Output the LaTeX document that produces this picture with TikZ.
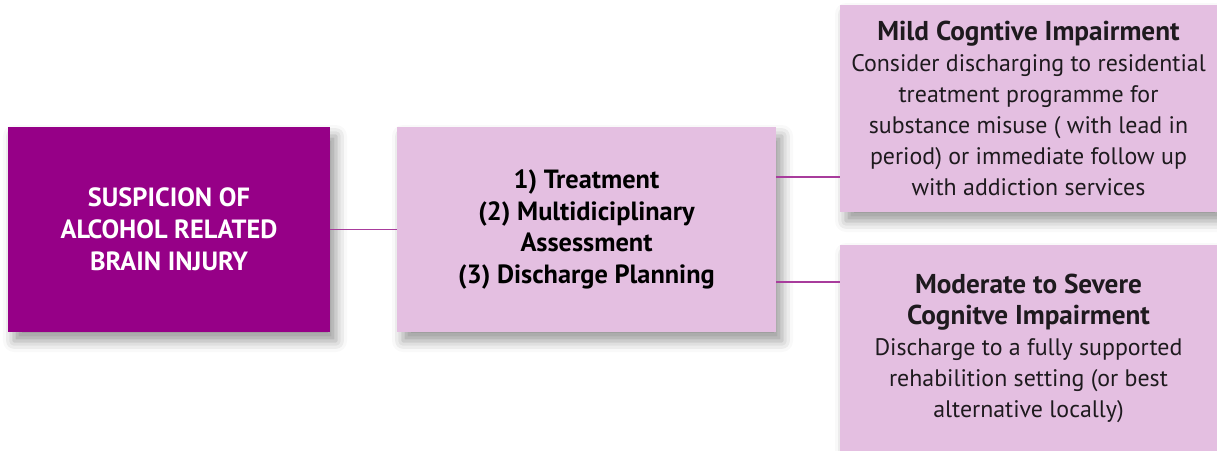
\documentclass[tikz,border=0pt]{standalone}
\usepackage{fontspec}
\setmainfont{PT Sans}
\usetikzlibrary{positioning,calc,shadows.blur}
\definecolor{plum}{HTML}{960087}
\definecolor{lilac}{HTML}{E4BFE1}
\definecolor{wire}{HTML}{A83C9C}
\definecolor{ink}{HTML}{1E1A1E}
\newcommand{\headline}[1]{{\bfseries\fontsize{15.5}{17.6}\selectfont #1}}

\begin{document}
\begin{tikzpicture}[
  box/.style={fill=lilac,inner sep=0pt,align=center,minimum height=4.1cm,
    blur shadow={shadow xshift=0.12cm,shadow yshift=-0.18cm,
      shadow blur radius=0.22cm,shadow opacity=40}},
  outcome/.style={box,minimum width=7.54cm,minimum height=4.14cm,text=ink,
    font=\fontsize{13.6}{17.6}\selectfont},
  link/.style={draw=wire,line width=0.6pt}
]
\useasboundingbox (0,0) rectangle (24.34,-9);

% starting point
\node[box,fill=plum,text=white,minimum width=6.44cm,
  font=\bfseries\fontsize{15}{18.2}\selectfont] (arbi) at (3.38,-4.59)
  {SUSPICION OF\\ALCOHOL RELATED\\BRAIN INJURY};

% hospital stay
\node[box,minimum width=7.58cm,
  font=\bfseries\fontsize{15}{17.9}\selectfont] (steps) at (11.73,-4.59)
  {1) Treatment\\(2) Multidiciplinary\\Assessment\\(3) Discharge Planning};

% discharge routes
\node[outcome] (mild) at (20.57,-2.17)
  {\headline{Mild Cogntive Impairment}\\
   Consider discharging to residential\\
   treatment programme for\\
   substance misuse ( with lead in\\
   period) or immediate follow up\\
   with addiction services};
\node[outcome] (severe) at (20.57,-6.97)
  {\headline{Moderate to Severe}\\
   \headline{Cognitve Impairment}\\
   Discharge to a fully supported\\
   rehabilition setting (or best\\
   alternative locally)};

% links
\coordinate (up) at ([yshift=1.05cm]steps.east);
\coordinate (down) at ([yshift=-1.05cm]steps.east);
\draw[link] (arbi) -- (steps);
\draw[link] (up) -- (up -| mild.west);
\draw[link] (down) -- (down -| severe.west);
\end{tikzpicture}
\end{document}
